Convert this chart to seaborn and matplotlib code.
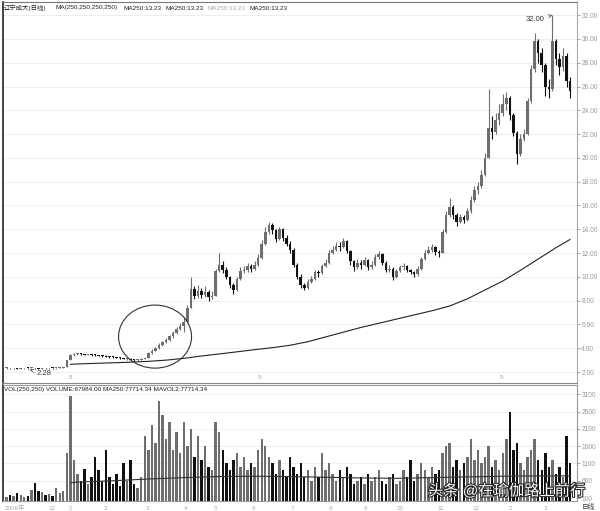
import matplotlib
matplotlib.use("Agg")
import matplotlib.pyplot as plt
import matplotlib.patheffects as pe
from matplotlib.patches import Ellipse
import seaborn as sns
import pandas as pd

# daily closes (one value per candle)
closes = [
    2.35, 2.30, 2.32, 2.28, 2.30, 2.33, 2.31, 2.35, 2.30, 2.29,
    2.32, 2.30, 2.34, 2.31, 2.33, 2.36, 2.40, 3.00, 3.40, 3.50,
    3.55, 3.50, 3.45, 3.48, 3.42, 3.40, 3.38, 3.35, 3.30, 3.28,
    3.25, 3.20, 3.15, 3.10, 3.10, 3.05, 3.00, 3.05, 3.10, 3.20,
    3.60, 3.80, 4.00, 4.30, 4.50, 4.70, 5.00, 5.30, 5.60, 5.90,
    6.20, 7.40, 9.00, 8.40, 8.80, 8.50, 8.70, 8.30, 8.40, 10.50,
    11.00, 10.60, 10.00, 9.30, 8.90, 9.80, 10.50, 10.60, 10.90, 10.70,
    11.00, 11.60, 12.80, 13.80, 14.40, 13.90, 13.20, 14.00, 13.30, 12.80,
    12.30, 11.00, 10.00, 9.30, 9.10, 9.60, 9.80, 10.40, 10.30, 10.90,
    11.20, 12.00, 12.30, 12.60, 12.50, 13.00, 12.20, 11.30, 10.80, 11.20,
    11.00, 11.40, 10.80, 11.00, 11.70, 11.90, 11.20, 10.60, 10.70, 10.00,
    10.50, 10.80, 10.90, 10.60, 10.40, 10.20, 10.70, 11.50, 12.00, 12.30,
    12.50, 12.10, 12.00, 13.80, 15.20, 15.90, 15.20, 14.60, 15.00, 14.80,
    15.50, 16.50, 17.30, 17.60, 18.60, 20.00, 22.50, 22.20, 23.20, 23.80,
    24.50, 25.00, 23.60, 22.10, 20.30, 21.60, 22.00, 24.80, 27.50, 29.80,
    28.80, 27.80, 26.00, 25.80, 29.80, 28.30, 27.60, 28.60, 26.50, 25.60,
]
highs = [
    2.40, 2.38, 2.36, 2.35, 2.34, 2.37, 2.36, 2.38, 2.37, 2.33,
    2.35, 2.35, 2.37, 2.37, 2.36, 2.40, 2.45, 3.05, 3.48, 3.58,
    3.62, 3.60, 3.55, 3.54, 3.52, 3.48, 3.45, 3.43, 3.40, 3.36,
    3.33, 3.30, 3.25, 3.20, 3.16, 3.14, 3.10, 3.10, 3.16, 3.26,
    3.66, 3.90, 4.10, 4.40, 4.62, 4.85, 5.15, 5.45, 5.80, 6.10,
    6.60, 7.60, 10.00, 9.20, 9.30, 9.10, 9.20, 8.90, 8.80, 10.70,
    12.00, 11.30, 10.80, 10.10, 9.50, 10.00, 10.80, 10.90, 11.20, 11.10,
    11.30, 11.90, 13.10, 14.20, 14.60, 14.50, 14.00, 14.20, 14.10, 13.50,
    13.00, 12.40, 11.20, 10.20, 9.50, 9.80, 10.10, 10.60, 10.60, 11.10,
    11.50, 12.30, 12.60, 12.90, 12.90, 13.30, 13.10, 12.30, 11.40, 11.50,
    11.40, 11.70, 11.50, 11.30, 11.90, 12.20, 12.00, 11.30, 11.00, 10.80,
    10.70, 11.00, 11.20, 11.00, 10.70, 10.50, 10.90, 11.70, 12.30, 12.60,
    12.80, 12.60, 12.30, 14.00, 15.50, 16.60, 16.00, 15.40, 15.30, 15.20,
    15.80, 16.80, 17.60, 18.00, 19.00, 20.40, 25.80, 23.50, 23.80, 24.50,
    25.40, 25.50, 25.20, 23.80, 22.30, 22.00, 22.40, 25.00, 27.80, 30.50,
    30.00, 29.20, 28.00, 26.60, 32.00, 30.00, 28.80, 29.20, 28.80, 26.80,
]
lows = [
    2.28, 2.27, 2.27, 2.24, 2.25, 2.28, 2.28, 2.29, 2.28, 2.28,
    2.28, 2.28, 2.29, 2.29, 2.29, 2.31, 2.34, 2.40, 2.98, 3.35,
    3.44, 3.45, 3.40, 3.40, 3.38, 3.35, 3.33, 3.30, 3.26, 3.22,
    3.20, 3.15, 3.10, 3.06, 3.04, 3.00, 2.96, 2.96, 3.00, 3.06,
    3.18, 3.55, 3.75, 3.95, 4.22, 4.40, 4.60, 4.90, 5.20, 5.50,
    5.40, 6.20, 7.40, 8.10, 8.20, 8.20, 8.30, 8.00, 8.10, 8.40,
    10.40, 10.30, 9.80, 9.10, 8.60, 8.80, 9.70, 10.30, 10.40, 10.40,
    10.60, 10.90, 11.50, 12.70, 13.60, 13.60, 12.90, 13.10, 13.00, 12.60,
    12.00, 10.80, 9.80, 9.10, 8.90, 9.00, 9.50, 9.70, 10.00, 10.20,
    10.80, 11.10, 11.90, 12.20, 12.20, 12.40, 12.00, 11.00, 10.50, 10.70,
    10.70, 10.90, 10.60, 10.70, 10.90, 11.50, 11.00, 10.40, 10.40, 9.70,
    9.90, 10.40, 10.60, 10.40, 10.20, 10.00, 10.10, 10.60, 11.40, 11.90,
    12.10, 11.80, 11.70, 12.00, 13.70, 15.00, 14.90, 14.30, 14.50, 14.50,
    14.70, 15.40, 16.30, 17.00, 17.50, 18.50, 20.00, 21.60, 22.00, 22.80,
    23.50, 24.00, 23.20, 21.80, 19.50, 20.20, 21.40, 21.90, 24.60, 27.20,
    28.00, 27.20, 25.20, 25.00, 25.60, 27.80, 27.00, 27.30, 26.00, 25.00,
]
first_open = 2.33
volumes = [
    120, 180, 150, 250, 200, 130, 160, 320, 540, 300,
    260, 180, 220, 150, 400, 250, 300, 1400, 3050, 1200,
    800, 600, 950, 500, 700, 1300, 900, 600, 1500, 700,
    500, 800, 450, 1100, 600, 1200, 500, 400, 700, 1900,
    1500, 2200, 1700, 2900, 2500, 1800, 2300, 1500, 2000, 1400,
    2300, 1600, 2100, 1300, 1900, 1200, 1600, 1000, 900, 2300,
    2000, 1500, 1100, 900, 1200, 1400, 1000, 1300, 900, 1100,
    1000, 1500, 1800, 1600, 1300, 1100, 800, 1200, 900, 700,
    1300, 1000, 800, 1100, 700, 900, 600, 1000, 700, 1400,
    900, 1100, 800, 600, 900, 700, 1000, 800, 500, 600,
    700, 500, 800, 600, 700, 900, 600, 500, 700, 800,
    500, 600, 900, 700, 1200, 600, 800, 1100, 900, 700,
    1000, 800, 900, 1400, 1600, 1700, 1000, 1200, 900, 1100,
    1300, 1800, 1200, 1500, 1100, 1300, 1600, 1000, 1200, 900,
    1400, 1800, 2600, 1500, 1700, 1100, 900, 1300, 1500, 1800,
    1200, 900, 1400, 1000, 1200, 800, 1000, 700, 1900, 1100,
]

# MA250 of price and volume (read at a few candles)
ma_idx = [18, 20, 25, 30, 35, 40, 45, 50, 55, 60, 65, 70, 75, 80, 85, 90, 95,
          100, 105, 110, 115, 120, 125, 130, 135, 140, 145, 150, 155, 159]
ma_price = [2.65, 2.68, 2.73, 2.78, 2.83, 2.90, 3.00, 3.15, 3.35, 3.52, 3.70,
            3.88, 4.05, 4.25, 4.55, 4.95, 5.35, 5.75, 6.10, 6.45, 6.80, 7.15,
            7.55, 8.15, 8.90, 9.65, 10.55, 11.50, 12.45, 13.15]
vol_ma_idx = [18, 20, 30, 40, 50, 60, 70, 80, 90, 100, 110, 120, 130, 140, 150, 159]
vol_ma = [540, 560, 600, 650, 690, 720, 730, 720, 700, 680, 670, 690, 710, 730, 740, 740]

price_ticks = [2, 4, 6, 8, 10, 12, 14, 16, 18, 20, 22, 24, 26, 28, 30, 32]
vol_ticks = [100, 600, 1100, 1600, 2100, 2600, 3100]
date_pos = [2.4, 12.8, 17.9, 27.8, 39.7, 50.4, 58.9, 69.6, 80.6, 91.4,
            101.3, 111.1, 122.4, 132.3, 142.2, 152.1]
date_labels = ["2006年", "12", "1", "2", "3", "4", "5", "6", "7", "8",
               "9", "10", "11", "12", "2", "3"]

sns.set_theme(style="white")
plt.rcParams['font.family'] = ['Liberation Sans', 'Noto Sans CJK SC', 'DejaVu Sans']

opens = [first_open] + closes[:-1]
df = pd.DataFrame({"o": opens, "h": highs, "l": lows, "c": closes, "v": volumes})
df["x"] = range(len(df))
up = df["c"] >= df["o"]
colors = ["#6e6e6e" if u else "#111111" for u in up]

fig = plt.figure(figsize=(6, 5.11), dpi=100)
ax = fig.add_axes([0.005, 0.2505, 0.957, 0.7455])
axv = fig.add_axes([0.005, 0.0186, 0.957, 0.228])

# candles
ax.vlines(df["x"], df["l"], df["h"], colors=colors, linewidth=0.8, zorder=3)
body_low = df[["o", "c"]].min(axis=1)
body_h = (df["c"] - df["o"]).abs().clip(lower=0.08)
ax.bar(df["x"], body_h, bottom=body_low, width=0.72, color=colors, linewidth=0, zorder=3)

ma_df = pd.DataFrame({"x": ma_idx, "ma": ma_price})
sns.lineplot(data=ma_df, x="x", y="ma", ax=ax, color="#222222", linewidth=0.8, zorder=2)

ax.add_patch(Ellipse((41.9, 4.98), width=20.6, height=5.3, fill=False,
                     edgecolor="#333333", linewidth=0.8, zorder=4))

ax.annotate("32.00", xy=(154, 32.0), xytext=(146.5, 31.6), fontsize=5.5, color="#333333",
            va="center", arrowprops=dict(arrowstyle="->", color="#555555", lw=0.6))
ax.annotate("2.28", xy=(5.8, 2.24), xytext=(8.6, 1.9), fontsize=5.5, color="#333333",
            va="center", arrowprops=dict(arrowstyle="->", color="#555555", lw=0.6))
for xm in [17.9, 71.3, 139.6]:
    ax.text(xm, 1.5, "5", fontsize=4.5, color="#999999", ha="center", va="center")

ax.set_xlim(-1, 161)
ax.set_ylim(1.08, 33.1)
ax.yaxis.tick_right()
ax.set_yticks(price_ticks)
ax.set_yticklabels([f"{t:.2f}" for t in price_ticks])
ax.tick_params(axis="y", labelsize=4.8, colors="#999999", length=2, width=0.6, pad=1)
ax.set_xticks([])
ax.set_xlabel("")
ax.set_ylabel("")
for t in price_ticks:
    ax.axhline(t, color="#eeeeee", linewidth=0.7, zorder=0)
ax.spines["top"].set_color("#777777")
ax.spines["right"].set_color("#aaaaaa")
ax.spines["bottom"].set_color("#888888")
for s in ax.spines.values():
    s.set_linewidth(0.8)
ax.spines["left"].set_color("#222222")
ax.spines["left"].set_linewidth(1.2)

# volume
axv.bar(df["x"], df["v"], width=0.68, color=colors, linewidth=0, zorder=3)
vma_df = pd.DataFrame({"x": vol_ma_idx, "vma": vol_ma})
sns.lineplot(data=vma_df, x="x", y="vma", ax=axv, color="#333333", linewidth=0.8, zorder=4)
axv.set_xlim(-1, 161)
axv.set_ylim(0, 3367)
axv.yaxis.tick_right()
axv.set_yticks(vol_ticks)
axv.set_yticklabels([str(t) for t in vol_ticks])
axv.tick_params(axis="y", labelsize=4.8, colors="#999999", length=2, width=0.6, pad=1)
axv.set_xticks(date_pos)
axv.set_xticklabels(date_labels)
axv.tick_params(axis="x", labelsize=4.5, colors="#aaaaaa", length=2, width=0.5, pad=1)
axv.set_xlabel("")
axv.set_ylabel("")
for t in vol_ticks:
    axv.axhline(t, color="#eeeeee", linewidth=0.7, zorder=0)
for side in ["top", "right", "bottom"]:
    axv.spines[side].set_color("#999999")
    axv.spines[side].set_linewidth(0.8)
axv.spines["left"].set_color("#222222")
axv.spines["left"].set_linewidth(1.2)

# header texts
hy = 1 - 8 / 511
hf = 4.6
fig.text(4 / 600, hy, "辽宁成大(日线)", fontsize=hf, color="#222222", va="center")
fig.text(56 / 600, hy, "MA(250,250,250,250)", fontsize=hf, color="#222222", va="center")
fig.text(124 / 600, hy, "MA250:13.23", fontsize=hf, color="#222222", va="center")
fig.text(166 / 600, hy, "MA250:13.23", fontsize=hf, color="#222222", va="center")
fig.text(208 / 600, hy, "MA250:13.23", fontsize=hf, color="#aaaaaa", va="center")
fig.text(250 / 600, hy, "MA250:13.23", fontsize=hf, color="#222222", va="center")
fig.text(4 / 600, 1 - 389 / 511, "VOL(250,250) VOLUME:67984.00 MA250:77714.34 MAVOL2:77714.34",
         fontsize=hf, color="#222222", va="center")
fig.text(582 / 600, 1 - 507 / 511, "日线", fontsize=4.8, color="#333333", va="center")

# watermark
fig.text(428 / 600, 1 - 491 / 511, "头条 @在瑜伽路上前行", fontsize=11, color="white",
         va="center", zorder=10,
         path_effects=[pe.withStroke(linewidth=1.5, foreground="#222222")])

fig.savefig("out.png", dpi=100)
